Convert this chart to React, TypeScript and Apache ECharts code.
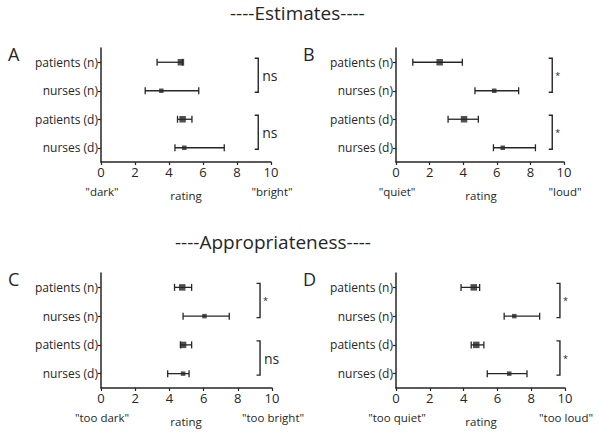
import React, { useEffect, useRef } from "react";
import * as echarts from "echarts";

const categories = ["patients (n)", "nurses (n)", "patients (d)", "nurses (d)"];
const xTicks = [0, 2, 4, 6, 8, 10];

const aMean = [4.7, 3.55, 4.8, 4.9];
const aLow = [3.3, 2.6, 4.5, 4.35];
const aHigh = [4.8, 5.75, 5.35, 7.25];

const bMean = [2.6, 5.85, 4.05, 6.35];
const bLow = [1.0, 4.7, 3.1, 5.8];
const bHigh = [3.95, 7.3, 4.9, 8.3];

const cMean = [4.75, 6.05, 4.8, 4.8];
const cLow = [4.3, 4.8, 4.65, 3.9];
const cHigh = [5.3, 7.5, 5.3, 5.15];

const dMean = [4.6, 7.0, 4.75, 6.7];
const dLow = [3.85, 6.4, 4.45, 5.4];
const dHigh = [4.95, 8.5, 5.2, 7.75];

const aSig = ["ns", "ns"];
const bSig = ["*", "*"];
const cSig = ["*", "ns"];
const dSig = ["*", "*"];

const bracketX = [9.25, 9.3, 9.3, 9.7];

const panelLetters = ["A", "B", "C", "D"];
const lowLabels = ['"dark"', '"quiet"', '"too dark"', '"too quiet"'];
const highLabels = ['"bright"', '"loud"', '"too bright"', '"too loud"'];

const FONT = "'Open Sans', 'Noto Sans', sans-serif";
const INK = "#262626";

export default function App() {
  const ref = useRef<HTMLDivElement>(null);
  useEffect(() => {
    if (!ref.current) return;
    const chart = echarts.init(ref.current, null, { renderer: "svg" });
    const grids = [
      { left: 101, top: 48, width: 170, height: 114 },
      { left: 396, top: 48, width: 168, height: 114 },
      { left: 101, top: 273, width: 171, height: 115 },
      { left: 396, top: 273, width: 169, height: 115 },
    ];
    const means = [aMean, bMean, cMean, dMean];
    const lows = [aLow, bLow, cLow, dLow];
    const highs = [aHigh, bHigh, cHigh, dHigh];
    const sigs = [aSig, bSig, cSig, dSig];

    const xAxes = grids.map((_, i) => ({
      type: "value",
      gridIndex: i,
      min: xTicks[0],
      max: xTicks[xTicks.length - 1],
      interval: 2,
      splitLine: { show: false },
      axisLine: { show: true, lineStyle: { color: INK, width: 1.5 } },
      axisTick: { show: true, length: 3, lineStyle: { color: INK, width: 1.2 } },
      axisLabel: { color: INK, fontSize: 13, fontFamily: FONT, margin: 3 },
    }));
    const yAxes = grids.map((_, i) => ({
      type: "category",
      gridIndex: i,
      data: categories,
      inverse: true,
      axisLine: { show: true, lineStyle: { color: INK, width: 1.5 } },
      axisTick: { show: true, length: 3, alignWithLabel: true, lineStyle: { color: INK, width: 1.2 } },
      axisLabel: { color: INK, fontSize: 12, fontFamily: FONT, margin: 3 },
    }));

    const series: any[] = [];
    grids.forEach((_, i) => {
      series.push({
        type: "custom",
        xAxisIndex: i,
        yAxisIndex: i,
        data: categories.map((_, k) => [lows[i][k], highs[i][k], k]),
        encode: { x: [0, 1], y: 2 },
        renderItem: (params: any, api: any) => {
          const lo = api.coord([api.value(0), api.value(2)]);
          const hi = api.coord([api.value(1), api.value(2)]);
          const h = 3.5;
          const style = { stroke: INK, lineWidth: 1.3 };
          return {
            type: "group",
            children: [
              { type: "line", shape: { x1: lo[0], y1: lo[1], x2: hi[0], y2: hi[1] }, style },
              { type: "line", shape: { x1: lo[0], y1: lo[1] - h, x2: lo[0], y2: lo[1] + h }, style },
              { type: "line", shape: { x1: hi[0], y1: hi[1] - h, x2: hi[0], y2: hi[1] + h }, style },
            ],
          };
        },
        z: 2,
      });
      series.push({
        type: "scatter",
        xAxisIndex: i,
        yAxisIndex: i,
        symbol: "rect",
        symbolSize: (v: any) => (v[1] % 2 === 0 ? 6.5 : 4.5),
        itemStyle: { color: INK },
        data: categories.map((_, k) => [means[i][k], k]),
        z: 3,
      });
      series.push({
        type: "custom",
        xAxisIndex: i,
        yAxisIndex: i,
        clip: false,
        data: sigs[i].map((s, p) => [bracketX[i], p * 2, p * 2 + 1, s]),
        renderItem: (params: any, api: any) => {
          const top = api.coord([api.value(0), api.value(1)]);
          const bot = api.coord([api.value(0), api.value(2)]);
          const x = top[0];
          const y1 = top[1] - 4;
          const y2 = bot[1] + 1.5;
          const s = sigs[i][params.dataIndex];
          return {
            type: "group",
            children: [
              {
                type: "polyline",
                shape: { points: [[x - 3.5, y1], [x, y1], [x, y2], [x - 3.5, y2]] },
                style: { stroke: INK, lineWidth: 1.4, fill: "none" },
              },
              {
                type: "text",
                x: x + (s === "ns" ? 4 : 3),
                y: (y1 + y2) / 2,
                style: {
                  text: s,
                  fontSize: s === "ns" ? 14 : 9,
                  fontFamily: FONT,
                  fill: INK,
                  verticalAlign: "middle",
                },
              },
            ],
          };
        },
        z: 2,
      });
    });

    const graphic: any[] = [
      {
        type: "text",
        left: 230,
        top: 3,
        style: { text: "----Estimates----", fontSize: 19, fontFamily: FONT, fill: INK },
      },
      {
        type: "text",
        left: 175,
        top: 232,
        style: { text: "----Appropriateness----", fontSize: 19, fontFamily: FONT, fill: INK },
      },
    ];
    grids.forEach((g, i) => {
      graphic.push({
        type: "text",
        x: g.left - 93,
        y: g.top - 3,
        style: { text: panelLetters[i], fontSize: 18, fontFamily: FONT, fill: INK },
      });
      const ly = g.top + g.height + 29;
      graphic.push({
        type: "text",
        x: g.left + 1,
        y: ly,
        style: { text: lowLabels[i], fontSize: 11.5, fontFamily: FONT, fill: INK, align: "center", verticalAlign: "middle" },
      });
      graphic.push({
        type: "text",
        x: g.left + 85,
        y: ly + 4,
        style: { text: "rating", fontSize: 11.5, fontFamily: FONT, fill: INK, align: "center", verticalAlign: "middle" },
      });
      graphic.push({
        type: "text",
        x: g.left + g.width + 1,
        y: ly,
        style: { text: highLabels[i], fontSize: 11.5, fontFamily: FONT, fill: INK, align: "center", verticalAlign: "middle" },
      });
    });

    chart.setOption({
      animation: false,
      backgroundColor: "#ffffff",
      grid: grids,
      xAxis: xAxes,
      yAxis: yAxes,
      series,
      graphic,
    });
    return () => chart.dispose();
  }, []);
  return (
    <div
      ref={ref}
      style={{ position: "fixed", left: 0, top: 0, width: 601, height: 438, background: "#fff" }}
    />
  );
}
